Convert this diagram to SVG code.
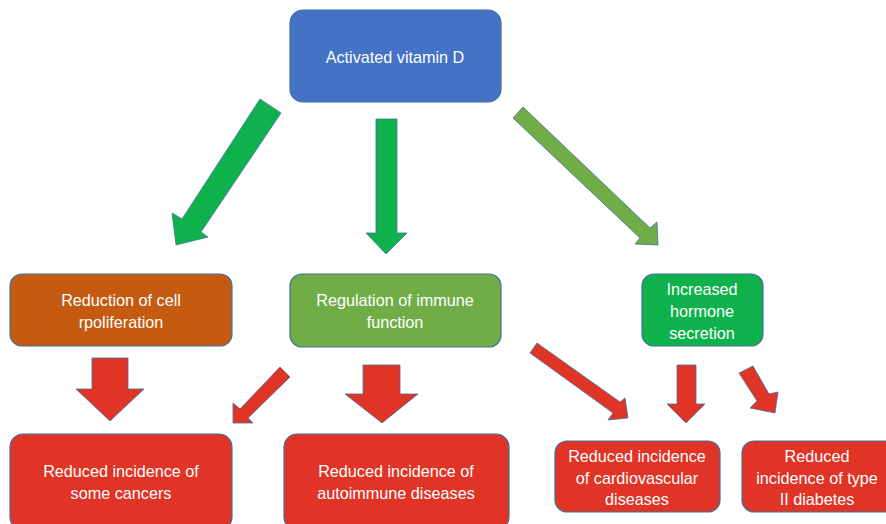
<svg xmlns="http://www.w3.org/2000/svg" width="886" height="524" viewBox="0 0 886 524">
<style>
.box{stroke:#41719C;stroke-width:1.2}
.blue{fill:#4472C4}
.orange{fill:#C55A11}
.lgreen{fill:#70AD47}
.green{fill:#0FB14C}
.red{fill:#E03427}
.arr{stroke:#41719C;stroke-width:0.8}
text{font-family:"Liberation Sans",Arial,sans-serif;font-size:16.2px;fill:#fff;text-anchor:middle}
</style>
<rect width="886" height="524" fill="#fff"/>
<g id="connectors">
<polygon class="arr green" points="260,99 281,113 201,232 208,237 176,245 172,213 182,219"/>
<polygon class="arr green" points="376,119 397,119 397,233 407,233 386,254 366,233 376,233"/>
<polygon class="arr lgreen" points="523,107 650,228 657,222 658,245 635,244 640,238 513,118"/>
<polygon class="arr red" points="92,358 128,358 128,389 144,389 110,421 76,389 92,389"/>
<polygon class="arr red" points="280,367 290,377 248,418 253,423 233,423 233,403 240,409"/>
<polygon class="arr red" points="363,365 400,365 400,394 418,394 382,423 345,394 363,394"/>
<polygon class="arr red" points="537,343 620,402 625,398 628,418 608,420 613,413 530,353"/>
<polygon class="arr red" points="677,365 696,365 696,404 705,404 686,423 667,404 677,404"/>
<polygon class="arr red" points="753,366 769,394 778,392 775,413 750,408 757,401 739,373"/>
</g>
<g id="vitd"><rect class="box blue" x="290" y="10" width="211" height="92" rx="13"/><text x="395" y="63">Activated vitamin D</text></g>
<g id="cellprolif"><rect class="box orange" x="10" y="274" width="222" height="72" rx="12"/><text x="121" y="306">Reduction of cell</text><text x="121" y="328">rpoliferation</text></g>
<g id="immune"><rect class="box lgreen" x="290" y="274" width="211" height="73" rx="12"/><text x="395" y="306">Regulation of immune</text><text x="395" y="328">function</text></g>
<g id="hormone"><rect class="box green" x="642" y="274" width="121" height="72" rx="12"/><text x="702" y="295">Increased</text><text x="702" y="317">hormone</text><text x="702" y="339">secretion</text></g>
<g id="cancers"><rect class="box red" x="10" y="434" width="222" height="96" rx="13"/><text x="121" y="477">Reduced incidence of</text><text x="121" y="499">some cancers</text></g>
<g id="autoimmune"><rect class="box red" x="284" y="434" width="225" height="96" rx="13"/><text x="396" y="477">Reduced incidence of</text><text x="396" y="499">autoimmune diseases</text></g>
<g id="cardio"><rect class="box red" x="555" y="441" width="165" height="71" rx="12"/><text x="637" y="462">Reduced incidence</text><text x="637" y="484">of cardiovascular</text><text x="637" y="505">diseases</text></g>
<g id="diabetes"><rect class="box red" x="742" y="441" width="160" height="71" rx="12"/><text x="817" y="462">Reduced</text><text x="817" y="484">incidence of type</text><text x="817" y="505">II diabetes</text></g>
</svg>
